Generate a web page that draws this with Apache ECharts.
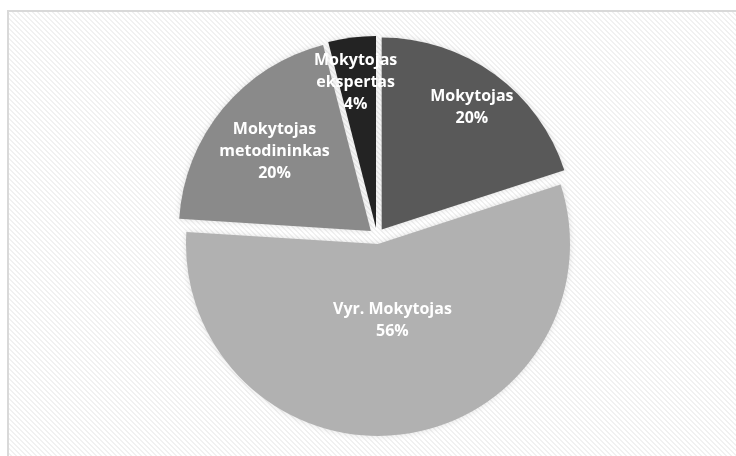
<!DOCTYPE html>
<html>
<head>
<meta charset="utf-8">
<script src="https://cdn.jsdelivr.net/npm/echarts@6/dist/echarts.min.js"></script>
<style>
  html, body { margin: 0; padding: 0; background: #ffffff; }
  #chart { width: 736px; height: 456px; }
</style>
</head>
<body>
<div id="chart"></div>
<script>
// Teacher qualification categories and their shares (%)
const categories = ['Mokytojas', 'Vyr. Mokytojas', 'Mokytojas metodininkas', 'Mokytojas ekspertas'];
const shares = [20, 56, 20, 4];
const labelTexts = ['Mokytojas', 'Vyr. Mokytojas', 'Mokytojas\nmetodininkas', 'Mokytojas\nekspertas'];

// Slice fills, one per category
const sliceColors = ['#595959', '#b1b1b1', '#8a8a8a', '#232323'];
// Label nudges [dx, dy] from the default inside position
const labelNudges = [[32, -42], [2, -22], [-20, -16], [-8, -47]];

// Light diagonal hatch used as the plot-area fill
function hatchCanvas() {
  const c = document.createElement('canvas');
  const n = 5;
  c.width = n; c.height = n;
  const ctx = c.getContext('2d');
  ctx.fillStyle = '#ffffff';
  ctx.fillRect(0, 0, n, n);
  ctx.fillStyle = '#f1f1f1';
  for (let y = 0; y < n; y++) {
    for (let x = 0; x < n; x++) {
      if (((x - y) % n + n) % n < 2) ctx.fillRect(x, y, 1, 1);
    }
  }
  return c;
}

const chart = echarts.init(document.getElementById('chart'), null, { renderer: 'canvas' });

const seriesData = categories.map((name, i) => ({
  name: name,
  value: shares[i],
  selected: true,
  itemStyle: { color: sliceColors[i] },
  label: { formatter: labelTexts[i] + '\n' + shares[i] + '%' }
}));

chart.setOption({
  animation: false,
  graphic: [{
    type: 'rect',
    z: -10,
    silent: true,
    shape: { x: 8, y: 11, width: 740, height: 460 },
    style: {
      fill: { image: hatchCanvas(), repeat: 'repeat' },
      stroke: '#d9d9d9',
      lineWidth: 2
    }
  }],
  series: [{
    type: 'pie',
    center: [377, 236],
    radius: [0, 192],
    startAngle: 90,
    clockwise: true,
    selectedMode: 'multiple',
    selectedOffset: 8,
    avoidLabelOverlap: false,
    itemStyle: {
      shadowBlur: 6,
      shadowColor: 'rgba(0,0,0,0.12)'
    },
    label: {
      show: true,
      position: 'inside',
      color: '#ffffff',
      fontFamily: 'Open Sans',
      fontWeight: 'bold',
      fontSize: 16,
      lineHeight: 22,
      align: 'center'
    },
    labelLine: { show: false },
    emphasis: { disabled: true },
    labelLayout: function (params) {
      const d = labelNudges[params.dataIndex];
      return { dx: d[0], dy: d[1] };
    },
    data: seriesData
  }]
});
</script>
</body>
</html>
